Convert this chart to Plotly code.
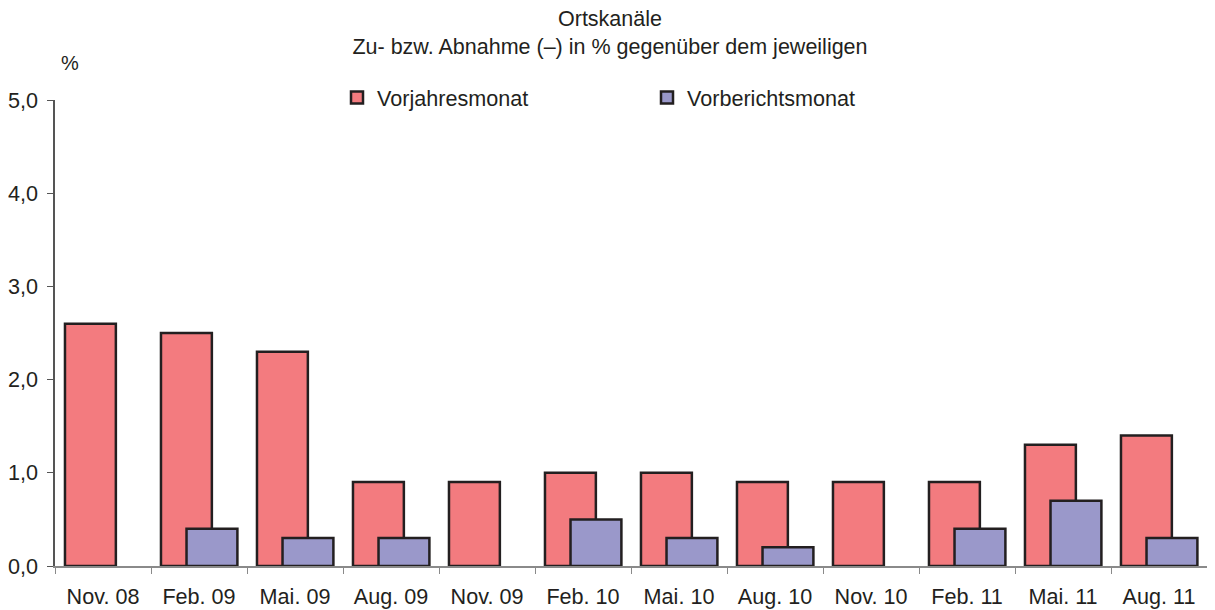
import plotly.graph_objects as go

categories = ["Nov. 08", "Feb. 09", "Mai. 09", "Aug. 09", "Nov. 09", "Feb. 10",
              "Mai. 10", "Aug. 10", "Nov. 10", "Feb. 11", "Mai. 11", "Aug. 11"]
vorjahresmonat = [2.6, 2.5, 2.3, 0.9, 0.9, 1.0, 1.0, 0.9, 0.9, 0.9, 1.3, 1.4]
vorberichtsmonat = [None, 0.4, 0.3, 0.3, None, 0.5, 0.3, 0.2, None, 0.4, 0.7, 0.3]
y_ticks = [0, 1, 2, 3, 4, 5]
y_labels = ["0,0", "1,0", "2,0", "3,0", "4,0", "5,0"]

FONT = "Liberation Sans, Arial, sans-serif"
TXT = "#231f20"
EDGE = "#231f20"
FS = 21.6

# page body has an 8px margin; plot area on screen: x 55..1207, y 100..566
fig = go.Figure()
fig.add_trace(go.Bar(
    x=categories, y=vorjahresmonat, name="Vorjahresmonat",
    marker=dict(color="#F37B7F", line=dict(color=EDGE, width=2.5)),
    width=0.53, offset=-0.396,
))
fig.add_trace(go.Bar(
    x=categories, y=vorberichtsmonat, name="Vorberichtsmonat",
    marker=dict(color="#9A98CA", line=dict(color=EDGE, width=2.5)),
    width=0.53, offset=-0.13,
))

fig.update_layout(
    width=1215, height=610,
    margin=dict(l=47, r=16, t=92, b=52, autoexpand=False),
    paper_bgcolor="white", plot_bgcolor="white",
    barmode="overlay",
    font=dict(family=FONT, color=TXT, size=FS),
    title=dict(text="Ortskanäle<br>Zu- bzw. Abnahme (–) in % gegenüber dem jeweiligen",
               x=(610 - 8) / 1215, xanchor="center", xref="container",
               y=1.0 - 18 / 610, yanchor="top", yref="container", pad=dict(t=0, b=0),
               font=dict(family=FONT, size=21.5, color=TXT)),
    showlegend=True,
    legend=dict(orientation="h", x=(337 - 55) / 1152, xanchor="left",
                y=(566 - 98) / 466, yanchor="middle",
                entrywidth=265, entrywidthmode="pixels", itemwidth=30,
                font=dict(family=FONT, size=FS, color=TXT),
                bgcolor="rgba(0,0,0,0)", traceorder="normal"),
    xaxis=dict(type="category", showline=True, linecolor="#8a8a8a", linewidth=1.5,
               ticks="outside", tickson="boundaries", ticklen=6, tickcolor="#8a8a8a",
               showgrid=False, tickfont=dict(size=FS), range=[-0.5, 11.5],
               ticklabelstandoff=10, automargin=False),
    yaxis=dict(range=[0, 5], tickvals=y_ticks, ticktext=y_labels, showline=True,
               linecolor="#555555", linewidth=1.5, ticks="outside", ticklen=6,
               tickcolor="#555555", showgrid=False, zeroline=False,
               tickfont=dict(size=FS), ticklabelstandoff=5, automargin=False),
    annotations=[dict(text="%", xref="paper", yref="paper",
                      x=(70 - 55) / 1152, y=(566 - 63) / 466,
                      xanchor="center", yanchor="middle",
                      showarrow=False, font=dict(size=20, color=TXT))],
)

fig.write_html("out.html")
